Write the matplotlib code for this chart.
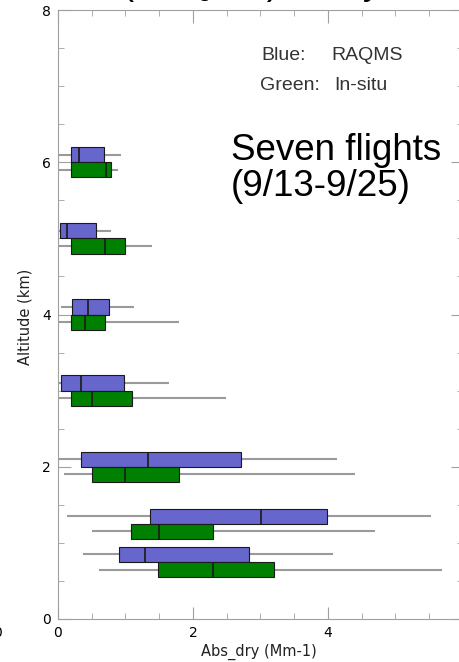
import matplotlib
matplotlib.use("Agg")
import matplotlib.pyplot as plt
from matplotlib.ticker import MultipleLocator

# altitude bins (km)
altitudes = [6.0, 5.0, 4.0, 3.0, 2.0, 1.25, 0.75]

# RAQMS (blue) box stats, Abs_dry (Mm-1)
raqms_min = [0.00, 0.00, 0.05, 0.00, 0.00, 0.14, 0.37]
raqms_q1 = [0.19, 0.03, 0.21, 0.04, 0.34, 1.36, 0.90]
raqms_med = [0.31, 0.14, 0.45, 0.34, 1.34, 3.01, 1.29]
raqms_q3 = [0.68, 0.56, 0.76, 0.98, 2.71, 3.99, 2.83]
raqms_max = [0.93, 0.79, 1.13, 1.65, 4.13, 5.53, 4.07]

# In-situ (green) box stats
insitu_min = [0.00, 0.00, 0.00, 0.00, 0.09, 0.50, 0.60]
insitu_q1 = [0.19, 0.19, 0.19, 0.19, 0.50, 1.08, 1.48]
insitu_med = [0.71, 0.70, 0.40, 0.50, 1.00, 1.50, 2.29]
insitu_q3 = [0.79, 0.99, 0.70, 1.10, 1.79, 2.29, 3.20]
insitu_max = [0.89, 1.40, 1.79, 2.49, 4.40, 4.70, 5.69]

W, H = 459, 662
fig = plt.figure(figsize=(W / 100, H / 100), dpi=100)
ax = fig.add_axes([58 / W, 43 / H, 405 / W, 609 / H])

def boxes(ys, lo, q1, med, q3, hi, color):
    ax.hlines(ys, lo, hi, color="#9a9a9a", lw=1.5, zorder=1)
    ax.barh(ys, [b - a for a, b in zip(q1, q3)], left=q1, height=0.2,
            color=color, edgecolor="#1a1a1a", linewidth=0.8, zorder=2)
    ax.vlines(med, [y - 0.1 for y in ys], [y + 0.1 for y in ys],
              color="#1a1a1a", lw=1.2, zorder=3)

boxes([a + 0.1 for a in altitudes], raqms_min, raqms_q1, raqms_med,
      raqms_q3, raqms_max, "#6666cc")
boxes([a - 0.1 for a in altitudes], insitu_min, insitu_q1, insitu_med,
      insitu_q3, insitu_max, "#008000")

ax.set_xlim(0, 6)
ax.set_ylim(0, 8)
ax.xaxis.set_major_locator(MultipleLocator(2))
ax.xaxis.set_minor_locator(MultipleLocator(0.5))
ax.yaxis.set_major_locator(MultipleLocator(2))
ax.yaxis.set_minor_locator(MultipleLocator(0.5))
ax.tick_params(which="both", direction="in", top=True, right=True,
               color="#a0a0a0", labelsize=10, pad=5)
ax.tick_params(which="major", length=9)
ax.tick_params(which="minor", length=4.5)
for s in ax.spines.values():
    s.set_color("#a0a0a0")

fig.text(25 / W, 1 - 317 / H, "Altitude (km)", rotation=90,
         ha="center", va="center", fontsize=10.5, color="#222222")
fig.text(259 / W, 1 - 652 / H, "Abs_dry (Mm-1)", ha="center",
         va="center", fontsize=10.5, color="#222222")

leg = dict(fontsize=14, color="#333333", family="Liberation Sans", va="center")
fig.text(261 / W, 1 - 55 / H, "Blue:", **leg)
fig.text(331 / W, 1 - 55 / H, "RAQMS", **leg)
fig.text(260 / W, 1 - 85 / H, "Green:", **leg)
fig.text(334 / W, 1 - 85 / H, "In-situ", **leg)

big = dict(fontsize=26.5, color="black", family="Liberation Sans", va="center")
fig.text(231 / W, 1 - 150 / H, "Seven flights", **big)
fig.text(231 / W, 1 - 187 / H, "(9/13-9/25)", **big)

# cut-off pieces at the edges of the picture
fig.text(122 / W, 1 + 6 / H, "(RAQMS) Study", fontsize=26,
         family="Liberation Sans", va="baseline")
fig.text(-2 / W, 1 - 633 / H, "0", ha="center", va="center", fontsize=10)

fig.savefig("out.png", dpi=100)
